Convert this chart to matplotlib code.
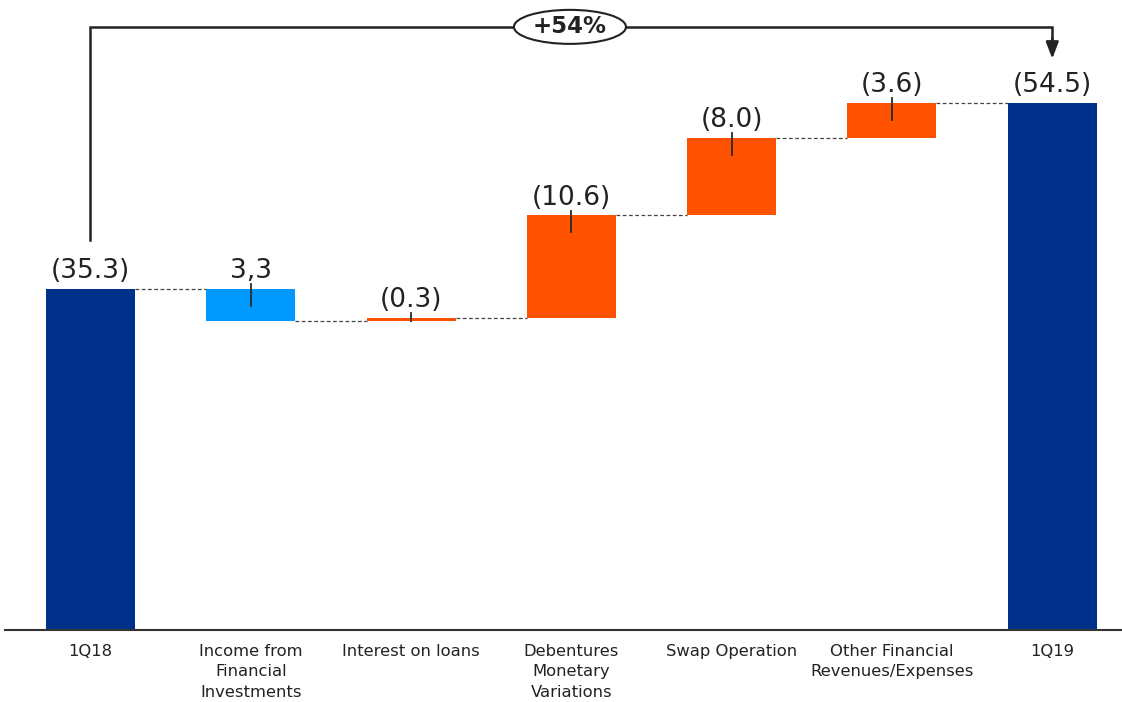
import matplotlib.pyplot as plt
from matplotlib.patches import Ellipse

categories = ['1Q18', 'Income from\nFinancial\nInvestments', 'Interest on loans',
              'Debentures\nMonetary\nVariations', 'Swap Operation',
              'Other Financial\nRevenues/Expenses', '1Q19']
# signed changes to the financial result (shown in magnitude, losses in parentheses)
start_value = 35.3
changes = [-3.3, 0.3, 10.6, 8.0, 3.6]
end_value = 54.5
value_labels = ['(35.3)', '3,3', '(0.3)', '(10.6)', '(8.0)', '(3.6)', '(54.5)']
growth_label = '+54%'

NAVY = '#00318A'
LIGHT = '#0099FF'
ORANGE = '#FF5200'

fig = plt.figure(figsize=(11.22, 7.02), dpi=100)
ax = fig.add_axes([5 / 1122, 72 / 702, 1117 / 1122, 630 / 702])

width = 0.555
bottoms, heights, colors = [0], [start_value], [NAVY]
level = start_value
for c in changes:
    new_level = level + c
    bottoms.append(min(level, new_level))
    heights.append(abs(c))
    colors.append(LIGHT if c < 0 else ORANGE)
    level = new_level
bottoms.append(0)
heights.append(end_value)
colors.append(NAVY)

x = list(range(len(categories)))
ax.bar(x, heights, bottom=bottoms, width=width, color=colors, zorder=2)

# dashed connectors between consecutive bars
levels = [start_value]
level = start_value
for c in changes:
    level += c
    levels.append(level)
for i, lv in enumerate(levels):
    ax.plot([i + width / 2, i + 1 - width / 2], [lv, lv], color='#444444',
            linestyle=(0, (3, 2)), linewidth=0.9, zorder=1)

# value labels and small leader ticks
for i in x:
    top = bottoms[i] + heights[i]
    ax.text(i, top + 0.5, value_labels[i], ha='center', va='bottom',
            fontsize=19, color='#222222', family='DejaVu Sans')
    if 0 < i < len(x) - 1:
        ax.plot([i, i], [top + 0.5, max(top - 1.75, bottoms[i])],
                color='#2a2a2a', linewidth=1.3, zorder=3)

# growth bracket from first to last bar
y_top = 62.4
ax.plot([0, 0, 6, 6], [40.4, y_top, y_top, 61.0], color='#222222',
        linewidth=1.8, solid_joinstyle='miter', zorder=3)
ax.annotate('', xy=(6, 59.1), xytext=(6, 61.2),
            arrowprops=dict(arrowstyle='-|>,head_length=1.0,head_width=0.38',
                            color='#222222', lw=1.8, shrinkA=0, shrinkB=0))
ell_x = (570 - 90.5) / 160.3
ax.add_patch(Ellipse((ell_x, y_top), 112 / 160.3, 34 / 9.665, facecolor='white',
                     edgecolor='#222222', linewidth=1.5, zorder=4))
ax.text(ell_x, y_top, growth_label, ha='center', va='center', fontsize=16.5,
        fontweight='bold', color='#222222', zorder=5)

ax.set_xlim(-0.533, 6.435)
ax.set_ylim(0, 65.18)
ax.set_xticks(x)
ax.set_xticklabels(categories, fontsize=11.8, color='#222222', linespacing=1.45)
ax.tick_params(axis='x', length=0, pad=10)
ax.set_yticks([])
for side in ['top', 'right', 'left']:
    ax.spines[side].set_visible(False)
ax.spines['bottom'].set_color('#333333')
ax.spines['bottom'].set_linewidth(1.5)

fig.savefig('out.png', dpi=100)
